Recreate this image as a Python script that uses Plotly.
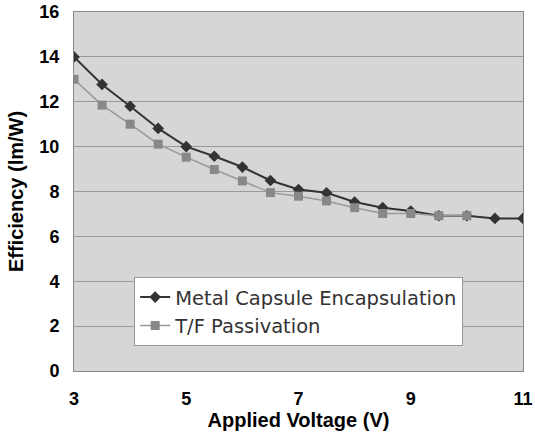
import plotly.graph_objects as go

voltage_metal = [3, 3.5, 4, 4.5, 5, 5.5, 6, 6.5, 7, 7.5, 8, 8.5, 9, 9.5, 10, 10.5, 11]
eff_metal = [14.0, 12.77, 11.80, 10.81, 10.0, 9.57, 9.09, 8.49, 8.09, 7.94, 7.53, 7.28, 7.13, 6.92, 6.92, 6.80, 6.80]

voltage_tf = [3, 3.5, 4, 4.5, 5, 5.5, 6, 6.5, 7, 7.5, 8, 8.5, 9, 9.5, 10]
eff_tf = [13.0, 11.85, 11.0, 10.11, 9.53, 8.98, 8.47, 7.95, 7.79, 7.58, 7.28, 7.02, 7.02, 6.92, 6.92]

x_ticks = [3, 5, 7, 9, 11]
y_ticks = [0, 2, 4, 6, 8, 10, 12, 14, 16]

fig = go.Figure()
fig.add_trace(go.Scatter(
    x=voltage_metal, y=eff_metal, mode="lines+markers",
    name="Metal Capsule Encapsulation",
    line=dict(color="#333333", width=2),
    marker=dict(symbol="diamond", size=9, color="#333333"),
))
fig.add_trace(go.Scatter(
    x=voltage_tf, y=eff_tf, mode="lines+markers",
    name="T/F Passivation",
    line=dict(color="#999999", width=1.5),
    marker=dict(symbol="square", size=9, color="#888888"),
))

axis_font = dict(family="Liberation Sans, Arial", size=20, color="black")
tick_font = dict(family="Liberation Sans, Arial", size=18, color="black", weight="bold")
fig.update_layout(
    width=535, height=432,
    margin=dict(l=74, r=12, t=12, b=61),
    paper_bgcolor="white",
    plot_bgcolor="#d6d6d6",
    font=dict(family="Liberation Sans, Arial", color="black"),
    showlegend=True,
    legend=dict(
        x=0.134, y=0.262, xanchor="left", yanchor="top",
        bgcolor="white", bordercolor="#999999", borderwidth=1,
        font=dict(family="DejaVu Sans", size=19.5, color="#333333"),
        tracegroupgap=0, itemwidth=30,
    ),
    xaxis=dict(
        range=[3, 11], tickvals=x_ticks, ticktext=[str(v) for v in x_ticks],
        showgrid=False, zeroline=False, automargin=False,
        showline=True, linecolor="#888888", linewidth=1, mirror=True,
        ticks="", ticklabelstandoff=11,
        tickfont=tick_font,
        title=dict(text="<b>Applied Voltage (V)</b>", font=axis_font, standoff=4),
    ),
    yaxis=dict(
        range=[0, 16], tickvals=y_ticks,
        showgrid=True, gridcolor="#999999", gridwidth=1, zeroline=False,
        automargin=False,
        showline=True, linecolor="#888888", linewidth=1, mirror=True,
        ticks="", ticklabelstandoff=10,
        tickfont=tick_font,
        title=dict(text="<b>Efficiency (lm/W)</b>", font=axis_font, standoff=10),
    ),
)

fig.write_html("out.html")
